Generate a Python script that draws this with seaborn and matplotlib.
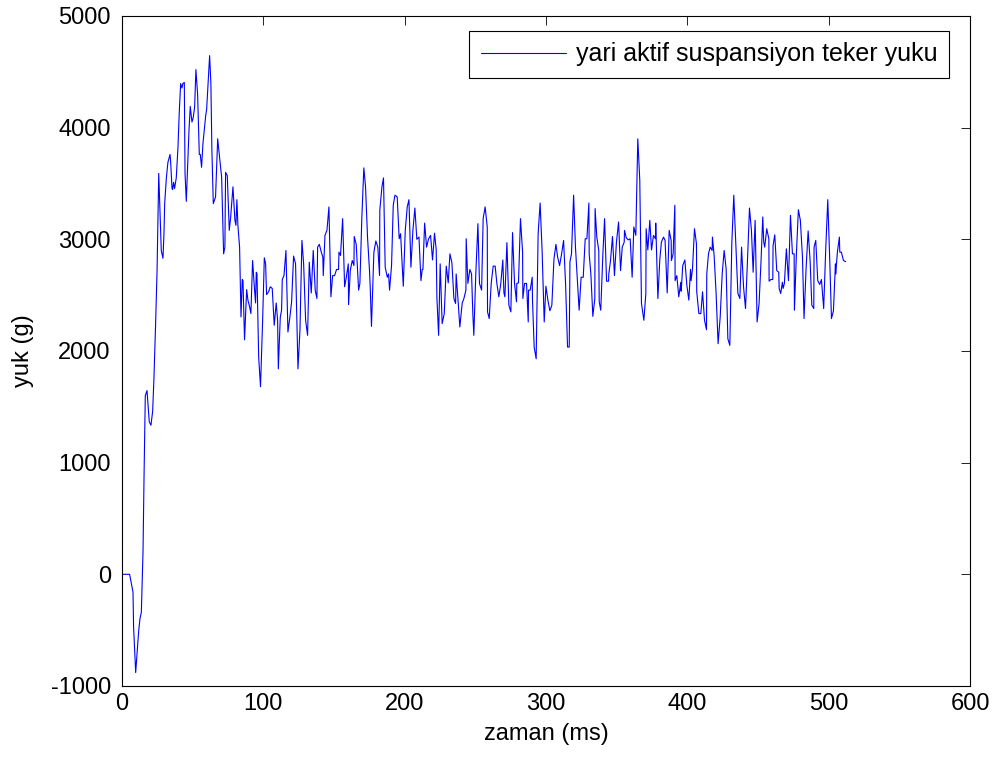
import matplotlib
matplotlib.use("Agg")
import matplotlib.pyplot as plt
import seaborn as sns
import pandas as pd

# vertices of the trace
time_ms = [
    0, 5.4, 7.8, 8.2, 9.7, 11.8, 12.7, 13.7, 14.9, 15.6, 16.5, 17.7, 18.6, 19.3, 20.5,
    21.7, 22.6, 23.8, 24.8, 26.0, 27.8, 29.0, 29.7, 30.2, 31.4, 32.5, 34.0, 34.4, 35.4,
    35.8, 36.5, 37.2, 38.4, 39.6, 40.5, 41.5, 42.4, 43.1, 44.1, 44.6, 45.5, 46.7, 47.4,
    48.3, 49.5, 50.4, 51.4, 52.3, 53.5, 54.7, 55.4, 56.3, 57.3, 58.2, 59.2, 59.9, 60.8,
    62.0, 62.9, 63.6, 64.6, 66.2, 67.7, 70.5, 71.9, 72.8, 73.3, 74.5, 75.9, 76.9, 78.5,
    79.9, 80.6, 81.3, 82.0, 83.2, 84.2, 85.1, 85.6, 86.7, 88.2, 89.1, 90.3, 91.2, 92.4,
    93.8, 94.5, 95.0, 95.5, 96.7, 98.0, 99.5, 100.7, 101.6, 102.3, 103.7, 104.9, 106.3,
    107.7, 109.1, 110.1, 110.6, 112.0, 112.9, 113.4, 114.6, 116.0, 117.4, 118.8, 120.0,
    121.4, 122.8, 124.5, 125.9, 127.3, 128.5, 129.9, 131.3, 132.5, 133.9, 135.3, 136.7,
    137.9, 138.4, 139.6, 141.0, 142.1, 142.4, 143.6, 145.0, 146.4, 147.8, 149.0, 150.4,
    151.8, 153.2, 153.5, 154.6, 156.1, 157.5, 158.7, 160.1, 160.3, 161.5, 162.9, 164.1,
    164.3, 165.7, 167.4, 168.3, 169.7, 171.1, 172.3, 173.7, 175.1, 175.6, 176.5, 178.2,
    179.6, 181.0, 182.2, 182.4, 183.9, 185.0, 186.2, 187.7, 188.6, 189.3, 190.7, 191.9,
    193.1, 194.7, 196.1, 197.1, 199.0, 200.4, 201.8, 203.0, 204.4, 205.8, 207.2, 208.6,
    210.1, 211.5, 212.4, 212.9, 214.1, 215.5, 216.9, 218.3, 219.7, 221.1, 222.3, 222.8,
    224.0, 225.1, 226.5, 228.0, 229.4, 230.8, 232.0, 233.4, 234.8, 236.0, 236.4, 237.9,
    239.0, 240.7, 241.9, 243.3, 243.5, 244.7, 246.1, 247.3, 248.2, 248.9, 250.3, 251.8,
    252.9, 254.4, 255.5, 256.9, 258.4, 258.6, 259.8, 261.2, 262.6, 264.0, 265.2, 266.6,
    268.0, 269.4, 270.2, 270.9, 272.3, 273.7, 275.1, 276.3, 277.7, 279.1, 279.3, 280.5,
    281.9, 283.4, 283.6, 284.8, 286.2, 287.4, 287.6, 288.8, 290.2, 290.4, 291.6, 293.0,
    294.4, 295.8, 297.2, 298.7, 299.9, 301.3, 302.7, 304.1, 305.6, 307.0, 308.2, 309.6,
    311.0, 312.4, 313.8, 315.2, 316.4, 316.9, 318.0, 319.5, 320.8, 322.2, 323.4, 324.8,
    326.3, 327.7, 328.9, 330.3, 330.5, 331.7, 333.1, 334.5, 334.7, 335.9, 337.3, 337.6,
    338.7, 340.2, 341.4, 342.8, 344.2, 344.4, 345.6, 347.0, 348.4, 349.8, 351.3, 352.7,
    353.9, 355.3, 355.5, 356.7, 358.1, 359.5, 360.9, 362.1, 363.5, 364.9, 366.3, 367.5,
    369.2, 370.6, 370.8, 372.0, 373.4, 374.6, 376.0, 377.4, 377.6, 379.1, 380.5, 381.6,
    383.1, 384.2, 385.7, 387.1, 388.5, 388.7, 389.9, 391.1, 391.3, 392.5, 393.9, 395.3,
    395.6, 396.7, 398.2, 399.6, 401.0, 402.2, 402.6, 403.6, 405.0, 406.4, 406.6, 408.1,
    409.5, 410.7, 412.1, 413.5, 413.7, 414.9, 416.1, 417.5, 417.7, 418.9, 420.3, 421.7,
    423.2, 424.6, 426.0, 427.4, 428.6, 430.0, 431.4, 432.8, 434.3, 435.7, 437.1, 438.3,
    439.7, 441.1, 442.5, 443.9, 445.3, 446.5, 447.9, 449.3, 450.7, 452.1, 453.3, 454.0,
    454.7, 456.1, 457.6, 457.8, 459.0, 460.4, 460.6, 461.8, 463.2, 464.6, 464.9, 466.0,
    467.2, 467.7, 468.6, 470.0, 471.5, 472.9, 474.3, 475.5, 475.7, 477.1, 478.5, 479.9,
    481.4, 482.5, 484.0, 485.4, 486.8, 488.0, 489.4, 489.6, 490.8, 492.2, 493.6, 494.8,
    496.4, 497.9, 499.3, 500.7, 501.9, 503.3, 504.7, 504.9, 506.1, 507.5, 507.8, 508.9,
    510.4, 512.0,
]
load_g = [
    0, 0, -160, -470, -880, -510, -400, -340, 215, 870, 1600, 1645, 1480, 1365, 1335,
    1460, 1750, 2250, 2710, 3590, 2900, 2830, 3050, 3320, 3550, 3690, 3760, 3700, 3455,
    3445, 3510, 3455, 3550, 3820, 4130, 4395, 4355, 4395, 4405, 3590, 3340, 3745, 3975,
    4190, 4050, 4090, 4185, 4520, 4300, 3760, 3760, 3645, 3860, 3975, 4105, 4165, 4375,
    4645, 4395, 3800, 3320, 3380, 3900, 3555, 2870, 2930, 3600, 3570, 3080, 3200, 3470,
    3170, 3125, 3355, 3125, 2930, 2305, 2640, 2630, 2100, 2550, 2455, 2395, 2335, 2810,
    2545, 2430, 2705, 2690, 1945, 1680, 2275, 2835, 2780, 2505, 2530, 2575, 2560,
    2230, 2430, 2275, 1840, 2305, 2365, 2640, 2675, 2900, 2170, 2305, 2440,
    2850, 2780, 1840, 2185, 2990, 2780, 2275, 2140, 2795, 2520, 2900, 2545,
    2470, 2930, 2955, 2885, 2840, 2675, 3035, 3080, 3290, 2485, 2675, 2675,
    2730, 2730, 2885, 2855, 3185, 2575, 2660, 2780, 2415, 2720, 2810, 2765,
    3025, 2955, 2545, 2605, 3200, 3640, 3470, 3020, 2720, 2575, 2220, 2885,
    2985, 2930, 2675, 3260, 3470, 3550, 2750, 2660, 2690, 2545, 2765, 3305,
    3395, 3380, 3005, 3050, 2580, 3080, 3290, 3355, 2750, 3080, 3280, 3000,
    3020, 2630, 2730, 2730, 3145, 2930, 3005, 3035, 2815, 3055, 2905, 2470,
    2140, 2780, 2245, 2335, 2760, 2610, 2870, 2790, 2470, 2425, 2690, 2425,
    2215, 2430, 2470, 2545, 3005, 2605, 2730, 2690, 2335, 2140, 2690, 3140,
    2605, 2545, 3185, 3290, 3110, 2350, 2290, 2605, 2760, 2760, 2605, 2485,
    2605, 2815, 2520, 2485, 2970, 2410, 2350, 3060, 2605, 2440, 2605, 2610,
    3185, 2885, 2470, 2605, 2605, 2260, 2545, 2545, 2660, 2455, 2035, 1930,
    3050, 3325, 2900, 2260, 2580, 2455, 2360, 2410, 2825, 2955, 2840, 2765,
    2870, 2990, 2605, 2035, 2035, 2800, 2870, 3395, 2930, 2630, 2365, 2660,
    2660, 3005, 3005, 3325, 2870, 2690, 2310, 2470, 3275, 3020, 2900, 2440,
    2365, 2870, 3185, 2625, 2625, 2690, 2810, 3025, 2675, 2975, 3155, 2720,
    2930, 2975, 3080, 3015, 2995, 3005, 2660, 3110, 3035, 3900, 3530, 2425,
    2275, 2515, 3095, 2905, 3170, 2905, 3035, 3005, 3145, 2470, 2825, 2975,
    3020, 2990, 2520, 3080, 2990, 2810, 2870, 3305, 2630, 2675, 2485, 2615,
    2535, 2765, 2815, 2590, 2455, 2730, 2630, 2735, 3095, 2960, 2530, 2335,
    2335, 2530, 2275, 2190, 2690, 2870, 2930, 2900, 3020, 2855, 2515, 2065,
    2305, 2690, 2900, 2735, 2110, 2050, 2960, 3395, 2930, 2515, 2470, 2930,
    2575, 2380, 2810, 3280, 3080, 2705, 3170, 2260, 2425, 2810, 3200, 2975,
    2930, 3095, 3005, 2625, 2640, 2640, 2945, 3040, 2720, 2705, 2560, 2515,
    2615, 2560, 2605, 2915, 2630, 3215, 2870, 2870, 2365, 2870, 3265, 3170,
    2840, 2290, 2750, 3075, 2810, 2410, 2380, 2930, 2990, 2630, 2595, 2640,
    2380, 2930, 3355, 2810, 2290, 2360, 2780, 2690, 2885, 3020, 2885, 2885,
    2810, 2800,
]
series_label = "yari aktif suspansiyon teker yuku"
x_ticks = [0, 100, 200, 300, 400, 500, 600]
y_ticks = [-1000, 0, 1000, 2000, 3000, 4000, 5000]

sns.set_style("white")
plt.rcParams["font.family"] = ["Liberation Sans", "DejaVu Sans"]
plt.rcParams["axes.unicode_minus"] = False
plt.rcParams["text.color"] = "black"
plt.rcParams["axes.labelcolor"] = "black"

df = pd.DataFrame({"t": time_ms, "yuk": load_g})

fig = plt.figure(figsize=(9.99, 7.61), dpi=100)
ax = fig.add_axes([0.1221, 0.0986, 0.849, 0.8804])

sns.lineplot(data=df, x="t", y="yuk", ax=ax, color="#0000ff", linewidth=0.8,
             estimator=None, sort=False, label=series_label)

ax.set_xlim(0, 600)
ax.set_ylim(-1000, 5000)
ax.set_xticks(x_ticks)
ax.set_yticks(y_ticks)
ax.tick_params(direction="in", top=True, right=True, length=6.5, width=0.6,
               labelsize=17, colors="black")
ax.tick_params(axis="x", pad=5)
ax.tick_params(axis="y", pad=8)
for sp in ax.spines.values():
    sp.set_color("black")
    sp.set_linewidth(0.8)

ax.set_xlabel("zaman (ms)", fontsize=17, labelpad=6, color="black")
ax.set_ylabel("yuk (g)", fontsize=17, labelpad=12, color="black")

leg = ax.legend(loc="upper right", fontsize=18, handlelength=3.4, handletextpad=0.4,
                fancybox=False, framealpha=1, edgecolor="black", borderpad=0.46,
                borderaxespad=0, bbox_to_anchor=(0.9752, 0.9776))
leg.get_frame().set_linewidth(0.8)
for txt in leg.get_texts():
    txt.set_color("black")

fig.savefig("out.png", dpi=100)
